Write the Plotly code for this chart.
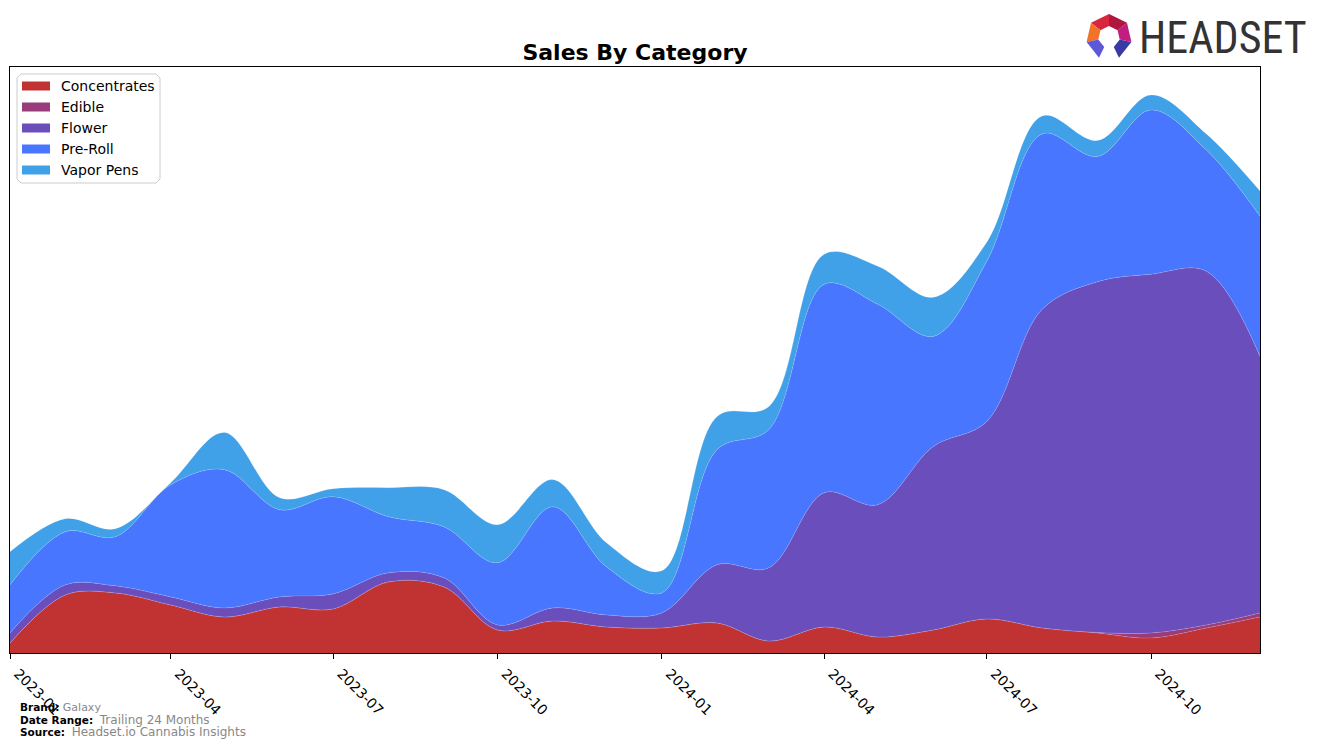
import math
import plotly.graph_objects as go

# ---------------- data ----------------
months = ["2023-01-01", "2023-02-01", "2023-03-01", "2023-04-01", "2023-05-01", "2023-06-01",
          "2023-07-01", "2023-08-01", "2023-09-01", "2023-10-01", "2023-11-01", "2023-12-01",
          "2024-01-01", "2024-02-01", "2024-03-01", "2024-04-01", "2024-05-01", "2024-06-01",
          "2024-07-01", "2024-08-01", "2024-09-01", "2024-10-01", "2024-11-01", "2024-12-01"]

concentrates = [10, 58, 60, 48, 36, 46, 44, 71, 66, 23, 32, 26,
                25, 30, 12, 26, 16, 23, 34, 25, 20, 15, 25, 36]
edible = [0, 0, 0, 0, 0, 0, 0, 0, 0, 0, 0, 0,
          0, 0, 0, 0, 0, 0, 0, 0, 0.5, 5, 3, 4]
flower = [10, 10, 7, 8, 9, 10, 15, 9, 9, 5, 13, 12,
          15, 58, 73, 134, 132, 183, 197, 318, 350, 358, 353, 256]
pre_roll = [48, 53, 49, 112, 138, 87, 97, 56, 51, 62, 101, 48,
            20, 115, 138, 208, 200, 110, 160, 175, 125, 164, 121, 140]
vapor_pens = [33, 13, 8, 2, 37, 12, 8, 29, 37, 38, 27, 24,
              22, 33, 23, 30, 38, 39, 19, 18, 16, 15, 16, 25]

series_names = ["Concentrates", "Edible", "Flower", "Pre-Roll", "Vapor Pens"]
series_values = [concentrates, edible, flower, pre_roll, vapor_pens]
series_colors = ["#C13333", "#993D7A", "#6A4EBB", "#4876FF", "#40A0E8"]

tick_vals = ["2023-01-01", "2023-04-01", "2023-07-01", "2023-10-01",
             "2024-01-01", "2024-04-01", "2024-07-01", "2024-10-01"]
tick_text = ["2023-01", "2023-04", "2023-07", "2023-10",
             "2024-01", "2024-04", "2024-07", "2024-10"]

# ---------------- figure ----------------
W, H = 1324, 747
ML, MR, MT, MB = 10, 64, 67, 94
PW, PH = W - ML - MR, H - MT - MB


def px2paper(x, y):
    return (x - ML) / PW, (H - MB - y) / PH


fig = go.Figure()
for name, vals, col in zip(series_names, series_values, series_colors):
    fig.add_trace(go.Scatter(
        x=months, y=vals, name=name, mode="lines",
        stackgroup="one", fillcolor=col,
        line=dict(color="rgba(255,255,255,0.25)", width=0.6, shape="spline", smoothing=1.0),
        hoverinfo="x+y+name", showlegend=False,
    ))

totals = [sum(v) for v in zip(*series_values)]
ymax = max(totals) * 1.05

font_main = "DejaVu Sans, Verdana, sans-serif"

fig.update_layout(
    width=W, height=H,
    margin=dict(l=ML, r=MR, t=MT, b=MB, pad=0, autoexpand=False),
    paper_bgcolor="white", plot_bgcolor="white",
    font=dict(family=font_main, color="black", size=14),
    title=dict(text="<b>Sales By Category</b>", x=(ML + PW / 2) / W, xanchor="center",
               y=1 - 52 / H, yanchor="middle", font=dict(size=22, family=font_main, color="black")),
    showlegend=False,
    xaxis=dict(type="date", range=[months[0], months[-1]], automargin=False,
               tickvals=tick_vals, ticktext=tick_text, tickangle=45,
               ticklabelshift=8, ticklabelstandoff=1,
               ticks="outside", ticklen=5, tickwidth=1, tickcolor="black",
               showgrid=False, zeroline=False,
               showline=True, linecolor="black", linewidth=1, mirror=True,
               tickfont=dict(size=14, family=font_main, color="black")),
    yaxis=dict(range=[0, ymax], showticklabels=False, ticks="", showgrid=False, automargin=False,
               zeroline=False, showline=True, linecolor="black", linewidth=1, mirror=True),
    hovermode="x unified",
)

annots = []
shapes = []


def add_text(px, py, text, size, color, family=font_main):
    xp, yp = px2paper(px, py)
    annots.append(dict(x=xp, y=yp, xref="paper", yref="paper", xanchor="left", yanchor="middle",
                       text=text, showarrow=False, borderpad=0,
                       font=dict(size=size, color=color, family=family)))


def poly_path(pts):
    path = ""
    for i, (x, y) in enumerate(pts):
        xp, yp = px2paper(x, y)
        path += ("M" if i == 0 else "L") + f"{xp:.5f},{yp:.5f} "
    return path + "Z"


# ---------------- legend (drawn) ----------------
lx0, ly0, lx1, ly1, rr = 17, 74, 160, 183, 4
box = [(lx0 + rr, ly0), (lx1 - rr, ly0), (lx1, ly0 + rr), (lx1, ly1 - rr), (lx1 - rr, ly1),
       (lx0 + rr, ly1), (lx0, ly1 - rr), (lx0, ly0 + rr)]
shapes.append(dict(type="path", path=poly_path(box), xref="paper", yref="paper",
                   fillcolor="rgba(255,255,255,0.85)", line=dict(color="#CCCCCC", width=1),
                   layer="above"))
for i, (name, col) in enumerate(zip(series_names, series_colors)):
    yc = 86 + i * 21
    x0p, y0p = px2paper(22, yc - 4.5)
    x1p, y1p = px2paper(50, yc + 4.5)
    shapes.append(dict(type="rect", x0=x0p, x1=x1p, y0=y1p, y1=y0p, xref="paper", yref="paper",
                       fillcolor=col, line=dict(width=0), layer="above"))
    add_text(60, yc, name, 14, "black")

# ---------------- footer text ----------------
add_text(19, 707, "<b>Brand:</b> <span style='font-size:11px;color:#888888'>Galaxy</span>",
         10.5, "black")
add_text(19, 719.5, "<b>Date Range:</b>  <span style='font-size:12px;color:#888888'>Trailing 24 Months</span>",
         10.5, "black")
add_text(19, 731.5, "<b>Source:</b>  <span style='font-size:12px;color:#888888'>Headset.io Cannabis Insights</span>",
         10.5, "black")

# ---------------- logo ----------------
add_text(1138, 38, "HEADSET", 44, "#333333",
         family="Liberation Sans Narrow, Roboto Condensed, Liberation Sans, sans-serif")

cx, cy = 1109, 37
r_out, r_in = 23, 11
seg_colors = {0: "#D9263F", 1: "#F27328", 2: "#5C58D8", 4: "#3A3AA6", 5: "#C21E80", 6: "#B0163E"}


def vert(k, r):
    ang = math.radians(90 + k * 360 / 7)
    return cx + r * math.cos(ang), cy - r * math.sin(ang)


for k, col in seg_colors.items():
    pts = [vert(k, r_out), vert(k + 1, r_out), vert(k + 1, r_in), vert(k, r_in)]
    shapes.append(dict(type="path", path=poly_path(pts), xref="paper", yref="paper",
                       fillcolor=col, line=dict(width=0), layer="above"))

fig.update_layout(annotations=annots, shapes=shapes)

fig.write_html("out.html")
